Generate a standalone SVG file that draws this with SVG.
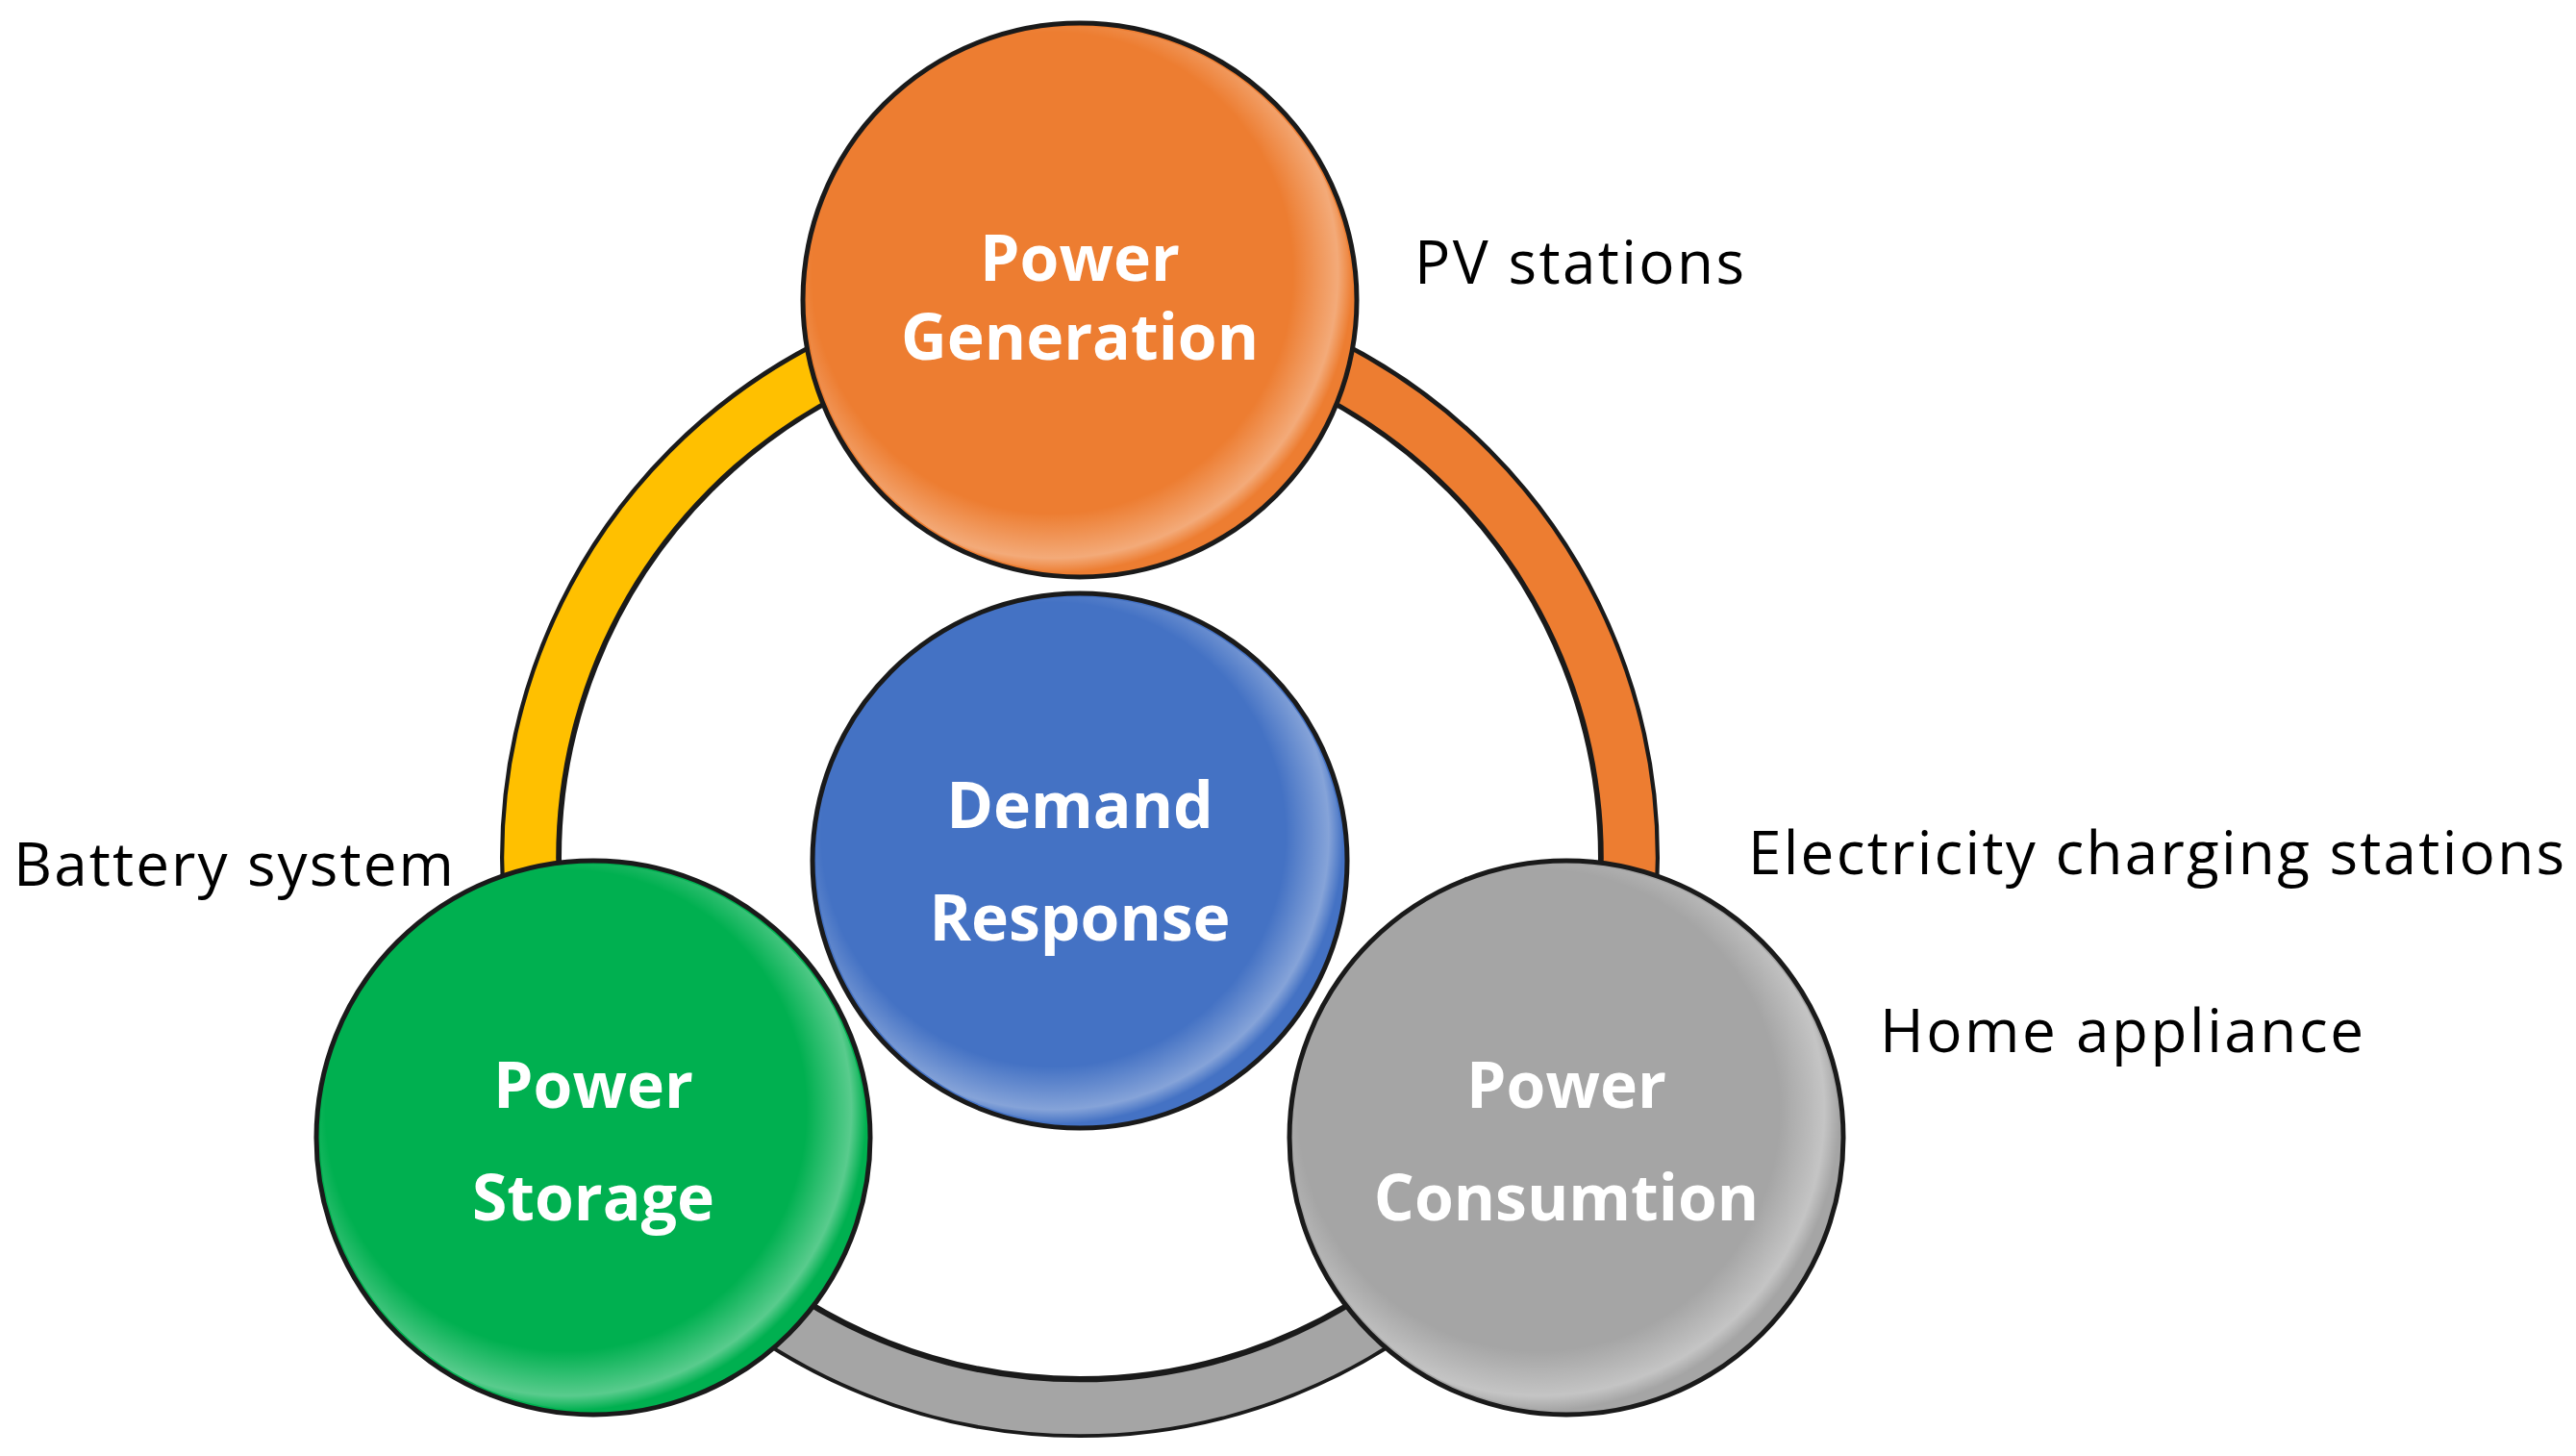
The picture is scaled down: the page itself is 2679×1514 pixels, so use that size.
<svg xmlns="http://www.w3.org/2000/svg" width="2679" height="1514" viewBox="0 0 2679 1514">
<defs>
<style>
.node{stroke:#1a1a1a;stroke-width:5}
.nt{font-family:"Open Sans","Liberation Sans",sans-serif;font-weight:bold;font-size:66px;fill:#fff;text-anchor:middle}
.lb{font-family:"Open Sans","Liberation Sans",sans-serif;font-size:62px;fill:#000}
.ringo{fill:none;stroke:#1a1a1a;stroke-width:64}
.ring{fill:none;stroke-width:54}
</style>
<radialGradient id="hl" cx="0.45" cy="0.45" r="0.55">
<stop offset="0.8" stop-color="#fff" stop-opacity="0"/>
<stop offset="0.95" stop-color="#fff" stop-opacity="0.35"/>
<stop offset="1" stop-color="#fff" stop-opacity="0"/>
</radialGradient>
</defs>
<rect width="2679" height="1514" fill="#fff"/>
<g id="connectors">
<circle class="ringo" cx="1123" cy="892" r="571"/>
<path class="ring" stroke="#FFC000" d="M628 1178 A571 571 0 0 1 1123 321"/>
<path class="ring" stroke="#ED7D31" d="M1123 321 A571 571 0 0 1 1618 1178"/>
<path class="ring" stroke="#A5A5A5" d="M1618 1178 A571 571 0 0 1 628 1178"/>
</g>
<g id="gen"><circle class="node" cx="1123" cy="312" r="288" fill="#ED7D31"/><circle cx="1123" cy="312" r="284" fill="url(#hl)"/>
<text class="nt" x="1123" y="292">Power</text><text class="nt" x="1123" y="374">Generation</text></g>
<g id="dr"><circle class="node" cx="1123" cy="895" r="278" fill="#4472C4"/><circle cx="1123" cy="895" r="274" fill="url(#hl)"/>
<text class="nt" x="1123" y="861">Demand</text><text class="nt" x="1123" y="978">Response</text></g>
<g id="storage"><circle class="node" cx="617" cy="1183" r="288" fill="#00B050"/><circle cx="617" cy="1183" r="284" fill="url(#hl)"/>
<text class="nt" x="617" y="1152">Power</text><text class="nt" x="617" y="1269">Storage</text></g>
<g id="cons"><circle class="node" cx="1629" cy="1183" r="288" fill="#A5A5A5"/><circle cx="1629" cy="1183" r="284" fill="url(#hl)"/>
<text class="nt" x="1629" y="1152">Power</text><text class="nt" x="1629" y="1269">Consumtion</text></g>
<g id="labels">
<text class="lb" x="1471" y="295" textLength="343">PV stations</text>
<text class="lb" x="14" y="921" textLength="458">Battery system</text>
<text class="lb" x="1818" y="909" textLength="849">Electricity charging stations</text>
<text class="lb" x="1955" y="1094" textLength="503">Home appliance</text>
</g>
</svg>
